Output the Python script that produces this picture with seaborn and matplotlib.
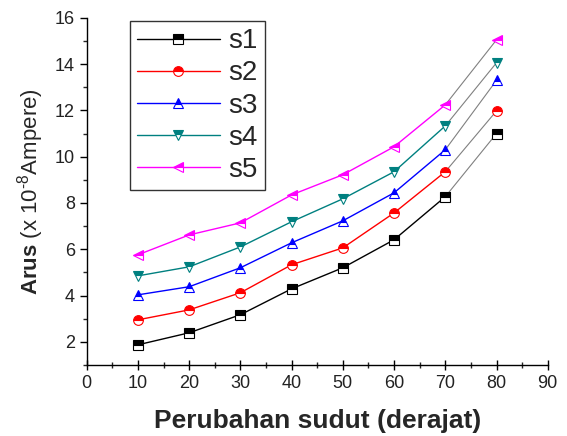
import numpy as np
import pandas as pd
import matplotlib
matplotlib.use("Agg")
import matplotlib.pyplot as plt
import seaborn as sns
from matplotlib.ticker import MultipleLocator
from matplotlib.lines import Line2D

sns.set_style("white")
plt.rcParams['font.family'] = ['Liberation Sans', 'DejaVu Sans']
plt.rcParams['mathtext.fontset'] = 'custom'
plt.rcParams['mathtext.rm'] = 'Liberation Sans'
plt.rcParams['mathtext.bf'] = 'Liberation Sans:bold'

angles = [10, 20, 30, 40, 50, 60, 70, 80]
s1 = [1.87, 2.39, 3.17, 4.29, 5.20, 6.41, 8.27, 11.0]
s2 = [2.95, 3.38, 4.12, 5.33, 6.06, 7.57, 9.35, 11.98]
s3 = [4.03, 4.38, 5.20, 6.28, 7.23, 8.44, 10.30, 13.30]
s4 = [4.85, 5.24, 6.10, 7.19, 8.18, 9.35, 11.33, 14.06]
s5 = [5.76, 6.62, 7.14, 8.35, 9.22, 10.43, 12.24, 15.05]
labels = ["s1", "s2", "s3", "s4", "s5"]
series = [s1, s2, s3, s4, s5]
colors = ["#000000", "#FF0000", "#0000FF", "#008080", "#FF00FF"]
markers = ["s", "o", "^", "v", "<"]

fig = plt.figure(figsize=(5.67, 4.36), dpi=100)
ax = fig.add_axes([0.153, 0.163, 0.813, 0.796])

mk = dict(markersize=7, fillstyle='top', markerfacecoloralt='white', markeredgewidth=0.8)
handles = []
for lab, vals, c, m in zip(labels, series, colors, markers):
    df = pd.DataFrame({"x": angles, "y": vals})
    sns.lineplot(data=df.iloc[:7], x="x", y="y", ax=ax, color=c, lw=1.0,
                 marker=m, markeredgecolor=c, markerfacecolor=c, zorder=3, **mk)
    sns.lineplot(data=df.iloc[6:], x="x", y="y", ax=ax, color="#808080", lw=0.8, zorder=2)
    ax.plot(df["x"].iloc[7:], df["y"].iloc[7:], linestyle='none', marker=m,
            markeredgecolor=c, markerfacecolor=c, zorder=4, **mk)
    handles.append(Line2D([], [], color=c, lw=1.0, marker=m, markeredgecolor=c,
                          markerfacecolor=c, **mk))

ax.set_xlim(0, 90)
ax.set_ylim(1, 16)
ax.xaxis.set_major_locator(MultipleLocator(10))
ax.xaxis.set_minor_locator(MultipleLocator(5))
ax.yaxis.set_minor_locator(MultipleLocator(1))
ax.set_yticks([2, 4, 6, 8, 10, 12, 14, 16])

for sp in ["top", "right"]:
    ax.spines[sp].set_visible(False)
for sp in ["left", "bottom"]:
    ax.spines[sp].set_color("black")
    ax.spines[sp].set_linewidth(1.0)

ax.tick_params(axis='x', which='major', direction='inout', length=7, width=1, labelsize=13,
               bottom=True, colors='black', labelcolor='#222222', pad=4)
ax.tick_params(axis='x', which='minor', direction='inout', length=4, width=1, bottom=True)
ax.tick_params(axis='y', which='major', direction='out', length=5, width=1, labelsize=13,
               left=True, colors='black', labelcolor='#222222')
ax.tick_params(axis='y', which='minor', direction='out', length=3, width=1, left=True)

ax.set_xlabel("Perubahan sudut (derajat)", fontsize=19, fontweight='bold', labelpad=12)
ax.set_ylabel("$\\bf{Arus}$ (x 10$^{\u2010 8}$Ampere)".replace("\u2010 ", "\u2010"),
              fontsize=16, labelpad=6)

leg = ax.legend(handles, labels, loc='upper left', bbox_to_anchor=(0.093, 0.99),
                fontsize=20, frameon=True, fancybox=False, handlelength=3.0,
                labelspacing=0.22, borderpad=0.25, handletextpad=0.3, borderaxespad=0)
leg.get_frame().set_edgecolor('black')
leg.get_frame().set_linewidth(1.0)

fig.savefig("out.png", dpi=100)
